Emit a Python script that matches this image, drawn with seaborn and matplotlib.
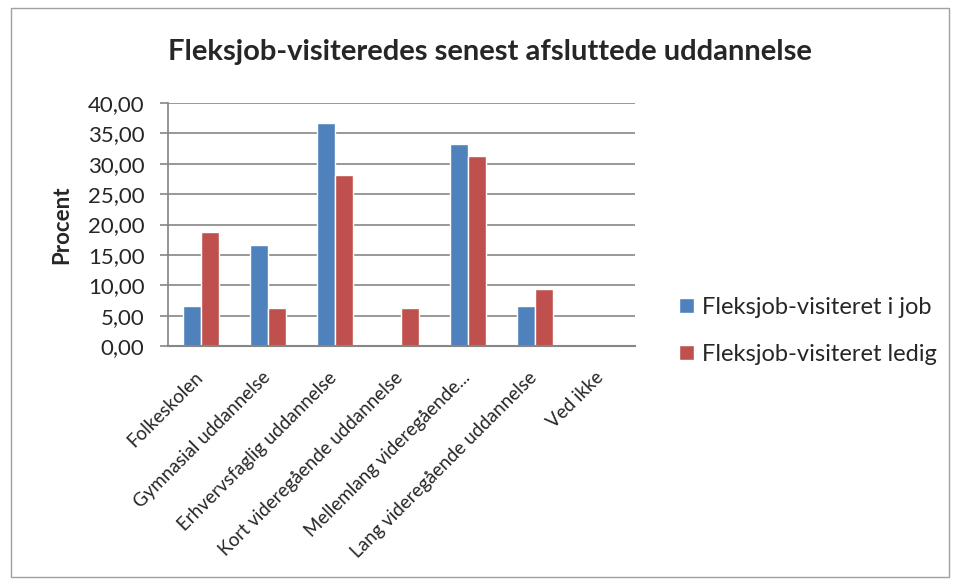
import pandas as pd
import numpy as np
import matplotlib
matplotlib.use("Agg")
import matplotlib.pyplot as plt
import matplotlib.transforms as mtransforms
import seaborn as sns
from matplotlib.patches import Rectangle

sns.set_theme(style="white")
plt.rcParams['font.family'] = ['Lato', 'DejaVu Sans']

categories = ['Folkeskolen', 'Gymnasial uddannelse', 'Erhvervsfaglig uddannelse',
              'Kort videregående uddannelse', 'Mellemlang videregående...',
              'Lang videregående uddannelse', 'Ved ikke']
i_job = [6.67, 16.67, 36.67, 0.0, 33.33, 6.67, 0.0]
ledig = [18.75, 6.25, 28.13, 6.25, 31.25, 9.38, 0.0]
series = ['Fleksjob-visiteret i job', 'Fleksjob-visiteret ledig']
colors = ['#4F81BD', '#C0504D']
yticks = [0, 5, 10, 15, 20, 25, 30, 35, 40]

df = pd.DataFrame({
    'kategori': categories * 2,
    'procent': i_job + ledig,
    'gruppe': [series[0]] * len(categories) + [series[1]] * len(categories),
})

fig = plt.figure(figsize=(9.56, 5.8), dpi=100)
ax = fig.add_axes([0.1757, 0.4034, 0.4885, 0.419])

sns.barplot(data=df, x='kategori', y='procent', hue='gruppe', palette=colors,
            width=0.54, gap=0, ax=ax, legend=True, saturation=1)

ax.set_ylim(0, 40)
ax.set_xlim(-0.5, len(categories) - 0.5)
ax.set_yticks(yticks)
ax.set_yticklabels([f'{v:.2f}'.replace('.', ',') for v in yticks], fontsize=16)
ax.yaxis.grid(True, color='#868686', linewidth=1.2)
ax.set_axisbelow(True)
for s in ['top', 'right']:
    ax.spines[s].set_visible(False)
ax.spines['left'].set_color('#868686')
ax.spines['bottom'].set_color('#868686')
ax.spines['bottom'].set_linewidth(1.5)
ax.tick_params(axis='y', which='major', left=True, length=6, width=1.2,
               color='#868686', pad=11)
ax.tick_params(axis='x', bottom=False, pad=9)
ax.set_xticks(range(len(categories)))
ax.set_xticklabels(categories, rotation=45, ha='right', rotation_mode='anchor', fontsize=13.5)
shift = mtransforms.ScaledTranslation(-7 / 100, -2 / 100, fig.dpi_scale_trans)
for lbl in ax.get_xticklabels():
    lbl.set_transform(lbl.get_transform() + shift)
ax.set_xlabel('')
ax.set_ylabel('Procent', fontsize=16, fontweight='bold', labelpad=11)

handles, labels = ax.get_legend_handles_labels()
ax.get_legend().remove()
fig.legend(handles, labels, loc='center left', bbox_to_anchor=(0.688, 0.43),
           frameon=False, fontsize=17, handlelength=0.62, handleheight=0.62,
           handletextpad=0.35, labelspacing=1.1)

fig.suptitle('Fleksjob-visiteredes senest afsluttede uddannelse', x=0.513, y=0.932,
             fontsize=21, fontweight='bold')

fig.patches.append(Rectangle((0.011, 0.005), 0.982, 0.982, transform=fig.transFigure,
                             fill=False, edgecolor='#A0A0A0', linewidth=1))

fig.savefig('out.png', dpi=100, facecolor='white')
